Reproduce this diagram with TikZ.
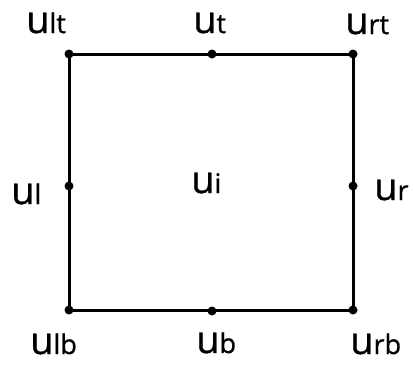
\documentclass[tikz,border=0pt]{standalone}
\usepackage{fontspec}
\setmainfont{Open Sans}
\newfontfamily\lblfont{Open Sans}[FakeBold=0.8]
\newcommand{\uval}[1]{u{\fontsize{27}{27}\selectfont #1}}

\begin{document}
\begin{tikzpicture}[x=1pt, y=-1pt,
    grid point/.style={circle, fill, inner sep=0pt, minimum size=9pt},
    ulabel/.style={anchor=base west, inner sep=0pt, font=\lblfont\fontsize{38}{38}\selectfont},
  ]
    \useasboundingbox (0,0) rectangle (414,368);

    % grid points of the cell
    \node[grid point] (lt) at (69,54) {};
    \node[grid point] (t)  at (212,54) {};
    \node[grid point] (rt) at (353,54) {};
    \node[grid point] (l)  at (69,186) {};
    \node[grid point] (r)  at (353,186) {};
    \node[grid point] (lb) at (69,310) {};
    \node[grid point] (b)  at (212,311) {};
    \node[grid point] (rb) at (353,310) {};

    \draw[line width=3pt] (lt.center) -- (rt.center) -- (rb.center) -- (lb.center) -- cycle;

    % labels
    \node[ulabel] (ult) at (26,33)  {\uval{lt}};
    \node[ulabel] (ut)  at (193,33) {\uval{t}};
    \node[ulabel] (urt) at (345,34) {\uval{rt}};
    \node[ulabel] (ul)  at (11,204) {\uval{l}};
    \node[ulabel] (ui)  at (191,193) {\uval{i}};
    \node[ulabel] (ur)  at (374,200) {\uval{r}};
    \node[ulabel] (ulb) at (30,354) {\uval{lb}};
    \node[ulabel] (ub)  at (196,353) {\uval{b}};
    \node[ulabel] (urb) at (350,354) {\uval{rb}};
  \end{tikzpicture}
\end{document}
